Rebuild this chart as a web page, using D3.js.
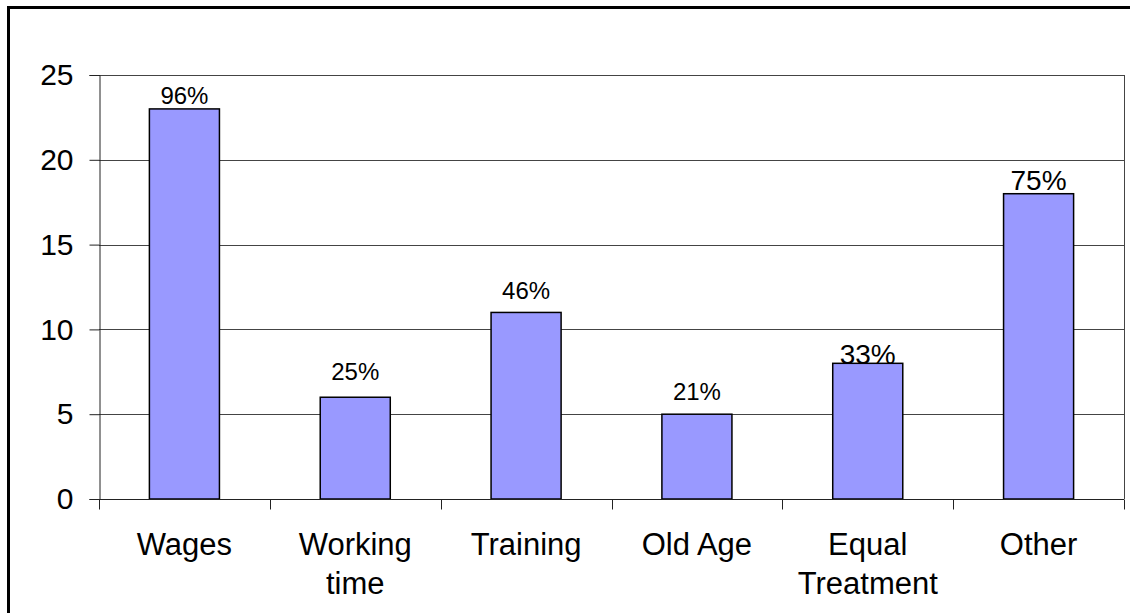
<!DOCTYPE html>
<html lang="en">
<head>
  <meta charset="UTF-8">
  <title>Topics</title>
  <script src="https://d3js.org/d3.v7.min.js"></script>
  <style>
    body { margin: 0; background: #fff; overflow: hidden; }
    svg { display: block; }
    svg text { font-family: "Liberation Sans", Arial, sans-serif; fill: #000; }
  </style>
</head>
<body>
  <svg id="chart" width="1130" height="613"></svg>

  <script>
    // chart data
    const categories = ["Wages", "Working time", "Training", "Old Age", "Equal Treatment", "Other"];
    const categoryLines = [["Wages"], ["Working", "time"], ["Training"], ["Old Age"], ["Equal", "Treatment"], ["Other"]];
    const values = [23, 6, 11, 5, 8, 18];
    const shares = ["96%", "25%", "46%", "21%", "33%", "75%"];
    const yTicks = [0, 5, 10, 15, 20, 25];

    // label tweaks (size, gap above bar) - the source chart is not consistent
    const labelLook = {
      "Wages": [24, 5], "Working time": [24, 17], "Training": [24, 13],
      "Old Age": [24, 14], "Equal Treatment": [28, -1], "Other": [28, 4]
    };

    const svg = d3.select("#chart");
    const pLeft = 99, pRight = 1124, pTop = 75, pBottom = 499;

    // outer frame (runs off the right and bottom edges)
    svg.append("rect").attr("x", 8.5).attr("y", 7.5).attr("width", 2000).attr("height", 2000)
      .attr("fill", "none").attr("stroke", "#000").attr("stroke-width", 3);

    const x = d3.scaleBand().domain(categories).range([pLeft, pRight]);
    const y = d3.scaleLinear().domain([0, 25]).range([pBottom, pTop]);

    // grid lines
    svg.append("g").selectAll("line").data(yTicks.slice(1)).join("line")
      .attr("x1", pLeft).attr("x2", pRight)
      .attr("y1", d => Math.round(y(d)) + 0.5).attr("y2", d => Math.round(y(d)) + 0.5)
      .attr("stroke", "#444").attr("stroke-width", 1);

    // right border of plot
    svg.append("line").attr("x1", pRight + 0.5).attr("x2", pRight + 0.5).attr("y1", pTop).attr("y2", pBottom)
      .attr("stroke", "#444");

    // y axis
    const yAxis = svg.append("g").attr("transform", `translate(${pLeft + 0.5},0)`)
      .call(d3.axisLeft(y).tickValues(yTicks).tickSize(10).tickPadding(16));
    yAxis.select(".domain").attr("stroke", "#222");
    yAxis.selectAll(".tick line").attr("stroke", "#222");
    yAxis.selectAll(".tick text").style("font-size", "30px");

    // bars
    const bw = x.bandwidth() * 0.41;
    svg.append("g").selectAll("rect").data(categories).join("rect")
      .attr("x", d => x(d) + (x.bandwidth() - bw) / 2)
      .attr("y", (d, i) => y(values[i]))
      .attr("width", bw)
      .attr("height", (d, i) => y(0) - y(values[i]))
      .attr("fill", "#9999ff").attr("stroke", "#000").attr("stroke-width", 1.5);

    // x axis with ticks between categories
    const xb = svg.append("g").attr("transform", `translate(0,${pBottom + 0.5})`);
    xb.append("line").attr("x1", pLeft).attr("x2", pRight).attr("stroke", "#222");
    const bounds = categories.map(d => x(d)).concat([pRight]);
    xb.selectAll(".tk").data(bounds).join("line").attr("class", "tk")
      .attr("x1", d => Math.round(d) + 0.5).attr("x2", d => Math.round(d) + 0.5)
      .attr("y1", 0).attr("y2", 10).attr("stroke", "#222");

    // category labels, wrapped as in the original
    xb.selectAll(".cat").data(categories).join("text").attr("class", "cat")
      .attr("text-anchor", "middle").style("font-size", "31px")
      .attr("transform", d => `translate(${x(d) + x.bandwidth() / 2},0)`)
      .each(function (d, i) {
        d3.select(this).selectAll("tspan").data(categoryLines[i]).join("tspan")
          .attr("x", 0).attr("y", (w, j) => 55 + j * 39).text(w => w);
      });

    // percent labels
    svg.append("g").selectAll("text").data(categories).join("text")
      .attr("text-anchor", "middle")
      .attr("x", d => x(d) + x.bandwidth() / 2)
      .attr("y", (d, i) => y(values[i]) - labelLook[d][1])
      .style("font-size", d => labelLook[d][0] + "px")
      .text((d, i) => shares[i]);
  </script>
</body>
</html>
